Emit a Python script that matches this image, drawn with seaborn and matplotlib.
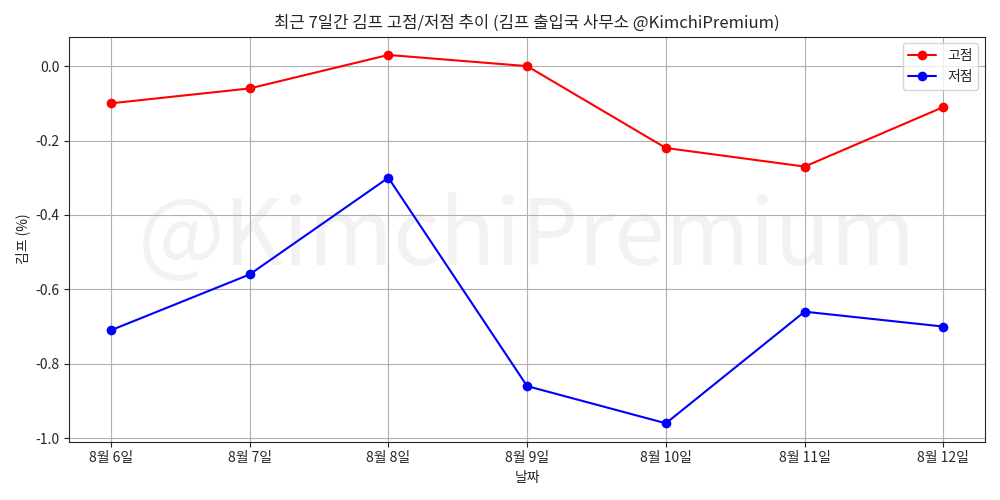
import matplotlib

matplotlib.use("Agg")
import matplotlib.pyplot as plt
import pandas as pd
import seaborn as sns

dates = ["8월 6일", "8월 7일", "8월 8일", "8월 9일", "8월 10일", "8월 11일", "8월 12일"]
high = [-0.10, -0.06, 0.03, 0.00, -0.22, -0.27, -0.11]
low = [-0.71, -0.56, -0.30, -0.86, -0.96, -0.66, -0.70]


def main() -> None:
    sns.set_style("ticks")
    plt.rcParams["font.family"] = ["Noto Sans CJK KR", "DejaVu Sans"]
    plt.rcParams["axes.unicode_minus"] = False

    df = pd.DataFrame({"date": dates, "high": high, "low": low})

    fig, ax = plt.subplots(figsize=(10, 5), dpi=100)
    sns.lineplot(data=df, x="date", y="high", ax=ax, color="red", marker="o",
                 markersize=7, markeredgewidth=0, label="고점", sort=False)
    sns.lineplot(data=df, x="date", y="low", ax=ax, color="blue", marker="o",
                 markersize=7, markeredgewidth=0, label="저점", sort=False)

    wm = ax.text(0.5, 0.5, "@KimchiPremium", transform=ax.transAxes, fontsize=66,
                 color="gray", alpha=0.1, ha="center", va="center", zorder=0)
    wm.set_in_layout(False)

    ax.set_title("최근 7일간 김프 고점/저점 추이 (김프 출입국 사무소 @KimchiPremium)", fontsize=12)
    ax.set_xlabel("날짜")
    ax.set_ylabel("김프 (%)")
    ax.grid(True, color="#b0b0b0")
    ax.legend(loc="upper right")
    fig.tight_layout()
    fig.savefig("out.png", dpi=100)
    plt.close(fig)


if __name__ == "__main__":
    main()
